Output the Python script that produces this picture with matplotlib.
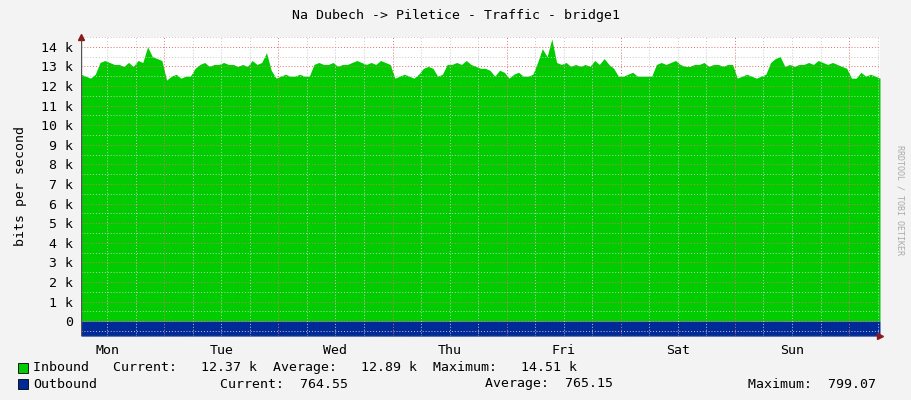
import numpy as np
import matplotlib.pyplot as plt

# hourly samples, starting Mon 06:30 (values in bits/s)
inbound_k = [
    12.6, 12.5, 12.4, 12.6, 13.2, 13.3, 13.2, 13.1, 13.1, 13.0, 13.2, 13.0, 13.3, 13.2, 14.0, 13.5, 13.4, 13.3,
    12.3, 12.5, 12.6, 12.4, 12.5, 12.5, 12.9, 13.1, 13.2, 13.0, 13.1, 13.1, 13.2, 13.1, 13.1, 13.0, 13.1, 13.0,
    13.3, 13.1, 13.2, 13.7, 12.8, 12.4, 12.5, 12.6, 12.5, 12.5, 12.6, 12.5, 12.5, 13.1, 13.2, 13.1, 13.1, 13.2,
    13.0, 13.1, 13.1, 13.2, 13.3, 13.2, 13.1, 13.2, 13.1, 13.3, 13.2, 13.1, 12.4, 12.5, 12.6, 12.5, 12.4, 12.6,
    12.9, 13.0, 12.9, 12.5, 12.6, 13.1, 13.1, 13.2, 13.1, 13.3, 13.1, 13.0, 12.9, 12.9, 12.8, 12.5, 12.8, 12.7,
    12.4, 12.6, 12.7, 12.5, 12.5, 12.6, 13.2, 13.9, 13.5, 14.4, 13.2, 13.1, 13.2, 13.0, 13.1, 13.0, 13.1, 13.0,
    13.3, 13.1, 13.4, 13.1, 12.9, 12.5, 12.5, 12.6, 12.7, 12.5, 12.5, 12.5, 12.5, 13.1, 13.2, 13.1, 13.2, 13.3,
    13.1, 13.0, 13.0, 13.1, 13.1, 13.2, 13.0, 13.1, 13.1, 13.0, 13.1, 13.1, 12.4, 12.5, 12.6, 12.5, 12.4, 12.5,
    12.6, 13.2, 13.4, 13.5, 13.0, 13.1, 13.0, 13.1, 13.1, 13.2, 13.1, 13.3, 13.2, 13.1, 13.2, 13.1, 13.0, 12.9,
    12.4, 12.4, 12.7, 12.5, 12.6, 12.5, 12.4,
]
outbound_hours = [0, 24, 48, 72, 96, 120, 144, 168]
outbound = [766, 764, 765, 767, 765, 764, 766, 765]
days = ['Mon', 'Tue', 'Wed', 'Thu', 'Fri', 'Sat', 'Sun']

plt.rcParams['font.family'] = 'DejaVu Sans Mono'
inbound = np.array(inbound_k) * 1000
hours = np.arange(len(inbound))
start = 6.5  # Mon 06:30

fig = plt.figure(figsize=(9.11, 4.0), dpi=100, facecolor='#f3f3f3')
ax = fig.add_axes([81/911, 64/400, 799/911, 299/400])
ax.set_facecolor('white')

ax.fill_between(hours, 0, inbound, color='#00cc00', lw=0, zorder=2)
ax.fill_between(outbound_hours, 0, -np.array(outbound), color='#002a97', lw=0, zorder=2)

ax.set_xlim(0, 168)
ax.set_ylim(-760, 14500)

# grid: grey every 6 h / 500, red at midnight / every 1k
for h in np.arange(-start + 6, 168, 6):
    midnight = abs(((h + start) % 24)) < 1e-6
    ax.axvline(h, color='#e07070' if midnight else '#c8c8c8', ls=(0, (1, 2)), lw=0.7, zorder=3)
for v in np.arange(-500, 14501, 500):
    ax.axhline(v, color='#e07070' if v % 1000 == 0 else '#c8c8c8', ls=(0, (1, 2)), lw=0.7, zorder=3)

ax.set_yticks(np.arange(0, 14001, 1000))
ax.set_yticklabels(['0'] + ['%d k' % k for k in range(1, 15)])
ax.set_xticks([24 * i + 12 - start for i in range(7)])
ax.set_xticklabels(days)
ax.tick_params(length=0, labelsize=9.5, pad=6)
for s in ax.spines.values():
    s.set_visible(False)
ax.axvline(0, color='#555555', lw=1, zorder=4)
ax.axhline(-760, color='#555555', lw=1, zorder=4)
ax.plot(0, 14500, marker='^', color='#8b1a1a', ms=4, clip_on=False, zorder=5)
ax.plot(168, -760, marker='>', color='#8b1a1a', ms=4, clip_on=False, zorder=5)
ax.set_ylabel('bits per second', fontsize=9.5, labelpad=10)

fig.text(0.5, 0.96, 'Na Dubech -> Piletice - Traffic - bridge1', ha='center', va='center', fontsize=9.5)
fig.text(0.988, 0.5, 'RRDTOOL / TOBI OETIKER', rotation=270, ha='center', va='center',
         fontsize=6, color='#aaaaaa')

fig.patches.append(plt.Rectangle((18/911, 1 - 373/400), 10/911, 10/400, transform=fig.transFigure,
                                 facecolor='#00cc00', edgecolor='black', lw=0.6))
fig.patches.append(plt.Rectangle((18/911, 1 - 389/400), 10/911, 10/400, transform=fig.transFigure,
                                 facecolor='#002a97', edgecolor='black', lw=0.6))
fig.text(33/911, 1 - 368/400, 'Inbound   Current:   12.37 k  Average:   12.89 k  Maximum:   14.51 k',
         va='center', fontsize=9.5)
fig.text(33/911, 1 - 384/400, 'Outbound', va='center', fontsize=9.5)
fig.text(220/911, 1 - 384/400, 'Current:  764.55', va='center', fontsize=9.5)
fig.text(485/911, 1 - 384/400, 'Average:  765.15', va='center', fontsize=9.5)
fig.text(748/911, 1 - 384/400, 'Maximum:  799.07', va='center', fontsize=9.5)

fig.savefig('out.png', dpi=100, facecolor=fig.get_facecolor())
